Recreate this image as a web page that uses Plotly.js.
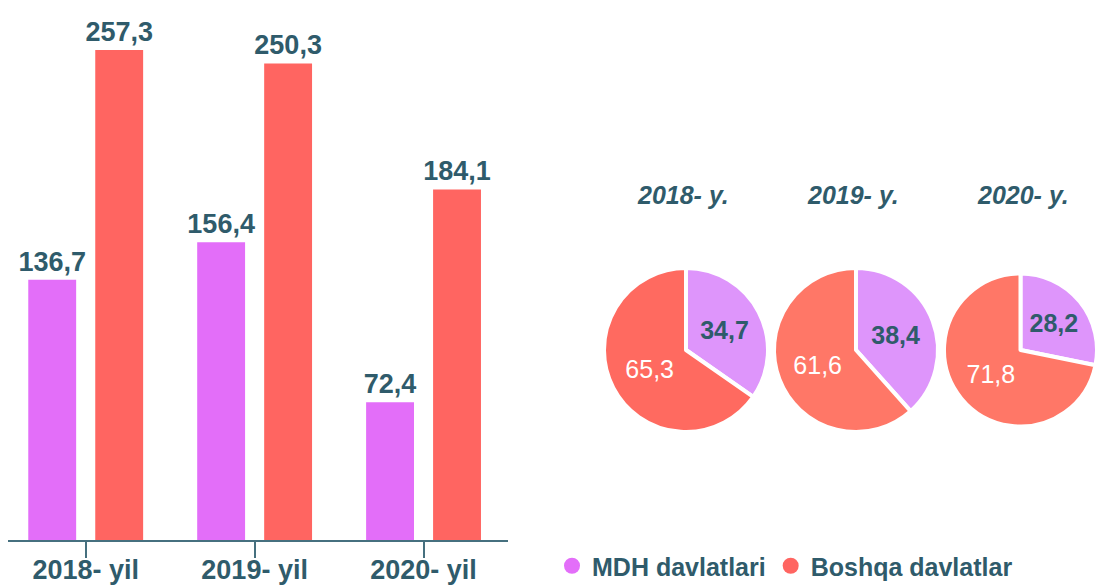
<!DOCTYPE html>
<html><head><meta charset="utf-8">
<script src="https://cdn.plot.ly/plotly-3.0.1.min.js"></script>
<style>html,body{margin:0;padding:0;background:#fff}#chart{width:1097px;height:586px}</style>
</head><body><div id="chart"></div>
<script>
const years = ["2018- yil", "2019- yil", "2020- yil"];
const pieTitles = ["2018- y.", "2019- y.", "2020- y."];
const seriesNames = ["MDH davlatlari", "Boshqa davlatlar"];
const mdhValues = [136.7, 156.4, 72.4];
const otherValues = [257.3, 250.3, 184.1];
const mdhShare = [34.7, 38.4, 28.2];
const otherShare = [65.3, 61.6, 71.8];

const FONT = "'Liberation Sans', Arial, sans-serif";
const TEAL = "#2f5b6b";
const PURPLE = "#e36ef9";
const RED = "#ff6561";
const PIE_PURPLE = "#de95fb";
const PIE_RED = ["#ff6a60", "#ff7767", "#ff7767"];

const W = 1097, H = 540;
const traces = [];
[mdhValues, otherValues].forEach((vals, k) => {
  traces.push({type:'bar', x:years, y:vals, name:seriesNames[k], marker:{color:k ? RED : PURPLE},
    texttemplate:'%{y:.1f}', textposition:'outside', constraintext:'none', cliponaxis:false, showlegend:false,
    textfont:{family:FONT, size:27, color:TEAL, weight:700}, hoverinfo:'none'});
});

const pieCx = [686, 856, 1026];
const pieCy = 350, pieR = 82;
const annotations = [];
for (let i = 0; i < 3; i++) {
  traces.push({type:'pie', values:[mdhShare[i], otherShare[i]], labels:seriesNames,
    sort:false, direction:'clockwise', rotation:0, showlegend:false,
    marker:{colors:[PIE_PURPLE, PIE_RED[i]], line:{color:'#ffffff', width:4}},
    texttemplate:'%{value:.1f}', textposition:'inside', insidetextorientation:'horizontal',
    insidetextfont:{family:FONT, size:25, color:[TEAL, '#ffffff'], weight:[700, 400]},
    domain:{x:[(pieCx[i]-pieR)/W, (pieCx[i]+pieR)/W], y:[1-(pieCy+pieR)/H, 1-(pieCy-pieR)/H]},
    hoverinfo:'none'});
  annotations.push({text:pieTitles[i], x:(pieCx[i]-3)/W, y:1-195/H, xref:'paper', yref:'paper',
    showarrow:false, xanchor:'center', yanchor:'middle',
    font:{family:FONT, size:25, color:TEAL, weight:700, style:'italic'}});
}
// legend-only marker traces
traces.push({type:'scatter', mode:'markers', x:[null], y:[null], name:seriesNames[0],
  marker:{color:PURPLE, size:17, symbol:'circle'}, hoverinfo:'none'});
traces.push({type:'scatter', mode:'markers', x:[null], y:[null], name:seriesNames[1],
  marker:{color:RED, size:17, symbol:'circle'}, hoverinfo:'none'});

const layout = {
  width:1097, height:586, margin:{l:0, r:0, t:0, b:46, autoexpand:false},
  paper_bgcolor:'#ffffff', plot_bgcolor:'#ffffff',
  separators:', ',
  barmode:'group', bargap:0.207, bargroupgap:0.285,
  font:{family:FONT, color:TEAL},
  xaxis:{domain:[8/W, 508/W], range:[-0.46, 2.5], showline:true, linecolor:'#46707f', linewidth:2,
    ticks:'outside', ticklen:16, tickwidth:2, tickcolor:'#46707f', showgrid:false, zeroline:false,
    ticklabelstandoff:-11,
    tickfont:{family:FONT, size:27, color:TEAL, weight:700}, fixedrange:true, automargin:false},
  yaxis:{range:[0, 283.6], visible:false, showgrid:false, zeroline:false, fixedrange:true, automargin:false},
  showlegend:true,
  legend:{orientation:'h', x:552/W, xanchor:'left', y:1-566/H, yanchor:'middle',
    font:{family:FONT, size:25, color:TEAL, weight:700}, itemwidth:30, tracegroupgap:0,
    bgcolor:'rgba(0,0,0,0)'},
  annotations:annotations
};
Plotly.newPlot('chart', traces, layout, {displayModeBar:false, staticPlot:true});
</script></body></html>
